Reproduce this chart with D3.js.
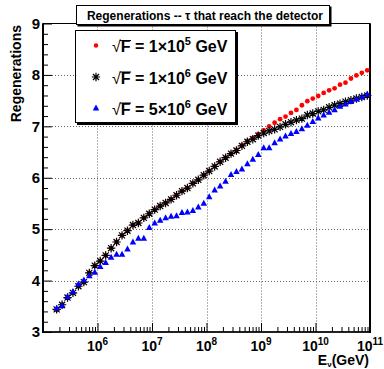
<!DOCTYPE html>
<html>
<head>
<meta charset="utf-8">
<script src="https://cdn.jsdelivr.net/npm/d3@7"></script>
<style>
html,body{margin:0;padding:0;background:#fff;}
svg{display:block;}
text{font-family:"Liberation Sans",Arial,Helvetica,sans-serif;font-weight:bold;}
</style>
</head>
<body>
<svg id="chart" width="384" height="369"></svg>
<script>
// ---- data ----
const logEnergy = [5.25,5.35,5.45,5.55,5.65,5.75,5.85,5.95,6.05,6.15,6.25,6.35,6.45,6.55,6.65,6.75,6.85,6.95,7.05,7.15,7.25,7.35,7.45,7.55,7.65,7.75,7.85,7.95,8.05,8.15,8.25,8.35,8.45,8.55,8.65,8.75,8.85,8.95,9.05,9.15,9.25,9.35,9.45,9.55,9.65,9.75,9.85,9.95,10.05,10.15,10.25,10.35,10.45,10.55,10.65,10.75,10.85,10.95];
const regenF1e5 = [3.43,3.53,3.67,3.76,3.89,3.97,4.15,4.29,4.38,4.49,4.63,4.75,4.88,4.97,5.08,5.12,5.22,5.30,5.38,5.45,5.51,5.58,5.66,5.74,5.80,5.89,5.96,6.05,6.13,6.22,6.31,6.39,6.47,6.54,6.63,6.71,6.77,6.85,6.92,7.00,7.07,7.14,7.19,7.26,7.32,7.41,7.49,7.54,7.59,7.65,7.70,7.74,7.81,7.85,7.93,7.99,8.04,8.09];
const regenF1e6 = [3.44,3.53,3.67,3.76,3.89,3.97,4.15,4.29,4.38,4.49,4.63,4.75,4.88,4.97,5.08,5.12,5.22,5.30,5.38,5.45,5.51,5.58,5.66,5.74,5.80,5.89,5.96,6.05,6.13,6.22,6.31,6.39,6.47,6.53,6.62,6.70,6.75,6.82,6.87,6.91,6.94,6.99,7.04,7.08,7.12,7.15,7.22,7.25,7.29,7.32,7.37,7.41,7.44,7.48,7.51,7.54,7.57,7.60];
const regenF5e6 = [3.46,3.51,3.69,3.78,3.93,4.01,4.09,4.16,4.27,4.35,4.45,4.51,4.51,4.61,4.75,4.82,4.82,5.03,5.12,5.17,5.22,5.25,5.26,5.32,5.33,5.36,5.43,5.50,5.63,5.76,5.84,5.93,6.06,6.12,6.17,6.27,6.36,6.45,6.58,6.58,6.68,6.75,6.81,6.86,6.90,6.95,7.02,7.09,7.16,7.22,7.27,7.32,7.39,7.43,7.48,7.53,7.57,7.62];
const yTicks = [3,4,5,6,7,8,9];
const xTickExps = [6,7,8,9,10,11];
const legendMantissa = ["1","1","5"];
const legendExp = ["5","6","6"];
const titleText = "Regenerations -- \u03c4 that reach the detector";
const yTitle = "Regenerations";

// ---- layout ----
const svg = d3.select("#chart");
const L = 43, R = 370, T = 23.5, B = 332;
const x = d3.scaleLog().domain([1e5, 1e11]).range([L, R]);
const y = d3.scaleLinear().domain([3, 9]).range([B, T]);

// grid
const grid = svg.append("g").attr("stroke", "#666").attr("stroke-width", 1).attr("stroke-dasharray", "1,2");
[6,7,8,9,10].forEach(e => {
  const px = Math.round(x(Math.pow(10, e))) + 0.5;
  grid.append("line").attr("x1", px).attr("x2", px).attr("y1", T).attr("y2", B);
});
[4,5,6,7,8].forEach(v => {
  const py = Math.round(y(v)) + 0.5;
  grid.append("line").attr("x1", L).attr("x2", R).attr("y1", py).attr("y2", py);
});

// y axis (ticks inward)
const yMinor = d3.range(3, 9.001, 0.2).filter(v => Math.abs(v - Math.round(v)) > 1e-6);
svg.append("g").attr("transform", `translate(${L},0)`)
  .call(d3.axisLeft(y).tickValues(yMinor).tickSize(-5).tickFormat(""))
  .call(g => g.select(".domain").remove());
const yAx = svg.append("g").attr("transform", `translate(${L},0)`)
  .call(d3.axisLeft(y).tickValues(yTicks).tickSize(-9).tickPadding(3).tickFormat(d3.format("d")));
yAx.select(".domain").remove();
yAx.selectAll("text").attr("font-size", 15).attr("fill", "#000").attr("font-family", "Liberation Sans, Arial, sans-serif").attr("font-weight", "bold");

// x axis (ticks inward)
const xMinor = [];
for (let e = 5; e < 11; e++) for (let m = 2; m <= 9; m++) xMinor.push(m * Math.pow(10, e));
svg.append("g").attr("transform", `translate(0,${B})`)
  .call(d3.axisBottom(x).tickValues(xMinor).tickSize(-5).tickFormat(""))
  .call(g => g.select(".domain").remove());
const xAx = svg.append("g").attr("transform", `translate(0,${B})`)
  .call(d3.axisBottom(x).tickValues(xTickExps.map(e => Math.pow(10, e))).tickSize(-9).tickFormat(""));
xAx.select(".domain").remove();
svg.selectAll(".tick line").attr("stroke", "#000");

// x tick labels with superscripts
xTickExps.forEach(e => {
  const t = svg.append("text").attr("x", x(Math.pow(10, e))).attr("y", 351)
    .attr("text-anchor", "middle").attr("font-size", 14);
  t.append("tspan").text("10");
  t.append("tspan").attr("dy", -6).attr("font-size", 10).text(String(e));
});

// frame
svg.append("rect").attr("x", L).attr("y", T).attr("width", R - L).attr("height", B - T)
  .attr("fill", "none").attr("stroke", "#000").attr("stroke-width", 1);
svg.append("line").attr("x1", L).attr("x2", L).attr("y1", T).attr("y2", B + 1).attr("stroke", "#000").attr("stroke-width", 2);
svg.append("line").attr("x1", R).attr("x2", R).attr("y1", T).attr("y2", B + 1).attr("stroke", "#000").attr("stroke-width", 2);
svg.append("line").attr("x1", L).attr("x2", R).attr("y1", B).attr("y2", B).attr("stroke", "#000").attr("stroke-width", 1.5);

// x title
const xt = svg.append("text").attr("x", 369).attr("y", 365).attr("text-anchor", "end").attr("font-size", 14);
xt.append("tspan").text("E");
xt.append("tspan").attr("dy", 2).attr("font-size", 8).text("\u03bd");
xt.append("tspan").attr("dy", -2).text("(GeV)");

// y title
svg.append("text").attr("transform", `translate(21,25) rotate(-90)`).attr("text-anchor", "end")
  .attr("font-size", 14).text(yTitle);

// ---- markers ----
const starPath = s => `M${-s},0L${s},0M0,${-s}L0,${s}M${-s*0.72},${-s*0.72}L${s*0.72},${s*0.72}M${-s*0.72},${s*0.72}L${s*0.72},${-s*0.72}`;
const triPath = (w, h) => `M0,${-h*0.6}L${w/2},${h*0.4}L${-w/2},${h*0.4}Z`;

const plot = svg.append("g");
plot.selectAll("circle.r").data(regenF1e5).join("circle")
  .attr("cx", (d, i) => x(Math.pow(10, logEnergy[i]))).attr("cy", d => y(d))
  .attr("r", 2.4).attr("fill", "#ff0000");
plot.selectAll("path.k").data(regenF1e6).join("path").attr("class", "k")
  .attr("transform", (d, i) => `translate(${x(Math.pow(10, logEnergy[i]))},${y(d)})`)
  .attr("d", starPath(4.2)).attr("stroke", "#000").attr("stroke-width", 1.2).attr("fill", "none");
plot.selectAll("path.b").data(regenF5e6).join("path").attr("class", "b")
  .attr("transform", (d, i) => `translate(${x(Math.pow(10, logEnergy[i]))},${y(d)})`)
  .attr("d", triPath(6.5, 6)).attr("fill", "#0000ff");

// ---- title box ----
svg.append("rect").attr("x", 77.5).attr("y", 6.5).attr("width", 254).attr("height", 20).attr("fill", "#000");
svg.append("rect").attr("x", 76.5).attr("y", 5.5).attr("width", 253).attr("height", 19).attr("fill", "#fff").attr("stroke", "#000").attr("stroke-width", 1);
svg.append("text").attr("x", 205).attr("y", 19.5).attr("text-anchor", "middle").attr("font-size", 12).text(titleText);

// ---- legend ----
svg.append("rect").attr("x", 77).attr("y", 32).attr("width", 161).attr("height", 93).attr("fill", "#000");
svg.append("rect").attr("x", 75.5).attr("y", 30.5).attr("width", 160).attr("height", 92).attr("fill", "#fff").attr("stroke", "#000").attr("stroke-width", 1);
const rowY = [45.5, 77, 108];
svg.append("circle").attr("cx", 96).attr("cy", rowY[0]).attr("r", 2.2).attr("fill", "#ff0000");
svg.append("path").attr("transform", `translate(96,${rowY[1]})`).attr("d", starPath(4.2)).attr("stroke", "#000").attr("stroke-width", 1.2).attr("fill", "none");
svg.append("path").attr("transform", `translate(96,${rowY[2]})`).attr("d", triPath(6.5, 6)).attr("fill", "#0000ff");
rowY.forEach((ry, i) => {
  const t = svg.append("text").attr("x", 112).attr("y", ry + 6.5).attr("font-size", 16);
  t.append("tspan").attr("font-weight", "normal").text("\u221a");
  t.append("tspan").text("F");
  t.append("tspan").text(" = " + legendMantissa[i] + "\u00d710");
  t.append("tspan").attr("dy", -7).attr("font-size", 11).text(legendExp[i]);
  t.append("tspan").attr("dy", 7).text(" GeV");
  // overline over F (part of the radical)
  const node = t.node();
  const ext = node.getExtentOfChar(1);
  const sq = node.getExtentOfChar(0);
  svg.append("line").attr("x1", sq.x + sq.width - 1).attr("x2", ext.x + ext.width + 0.5)
    .attr("y1", ext.y + 2.5).attr("y2", ext.y + 2.5).attr("stroke", "#000").attr("stroke-width", 1);
});
</script>
</body>
</html>
